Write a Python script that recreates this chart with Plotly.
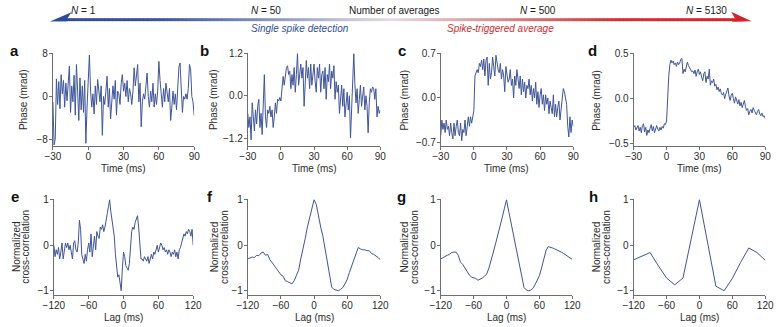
import plotly.graph_objects as go

W, H = 782, 327

# ---------------- data ----------------
time_ms = list(range(-30, 91))          # 1 ms steps, panels a-d
lag_e = list(range(-120, 121, 2))       # panel e
lag_fg = list(range(-120, 121, 4))      # panels f, g
lag_h = list(range(-120, 121, 15))      # panel h

phase_a = [
    -1.0, -9.1, -8.0, 3.3, -1.5, 2.8, -2.3, 4.1, 0.5, 3.0,
    -2.0, 2.5, -0.8, 3.5, 5.7, -3.0, 2.0, -1.0, 4.0, -3.5,
    6.0, 1.0, -4.5, 3.5, -2.5, 2.0, -3.0, 3.0, -8.8, -2.0,
    2.5, 7.8, 1.0, -2.0, 0.5, -3.3, 2.0, -1.5, 3.2, 0.5,
    -1.0, 2.0, -7.3, 0.0, -1.5, 1.0, 3.8, -2.0, 1.5, -4.2,
    -1.0, 2.0, -0.5, 3.0, -3.5, 1.0, 0.5, -1.5, 2.5, 4.1,
    1.0, 2.5, 0.0, 3.0, -1.0, 1.5, 0.5, -1.5, 1.0, 5.4,
    2.0, 4.0, 6.0, -1.0, 2.5, -5.7, -1.0, 0.5, -0.5, 2.0,
    4.4, 0.0, -2.0, 1.0, -1.0, 2.5, -2.0, 0.5, -1.5, 1.0,
    6.6, 3.0, -0.5, -2.0, 1.5, -1.0, 2.5, 0.0, -1.0, 1.5,
    -4.5, -2.0, 1.0, -1.5, 0.5, -2.5, 1.5, 5.5, 6.3, 2.0,
    -3.0, 0.0, -0.5, 0.5, -0.5, 1.5, 6.0, 5.0, 0.0, -1.0,
    -3.6,
]

phase_b = [
    -0.5, -0.9, -0.6, -1.25, -0.2, -0.7, -1.0, -0.4, -0.8, -0.3,
    -0.1, -0.9, -0.5, -1.1, -0.3, 0.6, -0.6, -0.9, -0.4, -0.5,
    -0.3, -0.6, -0.4, -0.9, -0.6, -0.2, -0.5, -0.1, -0.15, -0.05,
    -0.15, 0.3, 0.55, 0.3, 0.5, 0.8, 0.85, 0.6, 0.7, 0.2,
    0.6, 0.3, 0.8, 0.1, 0.6, 1.2, 0.3, 0.7, 0.9, 0.5,
    0.8, -0.3, 0.6, 1.0, 0.5, 0.8, 0.2, 0.9, 0.3, 0.7,
    0.9, 0.4, 0.1, 0.8, 0.5, 0.9, 0.1, 0.6, 0.7, 0.2,
    0.8, -0.1, 0.6, 0.4, 0.9, 0.2, 0.7, 0.5, 0.85, -0.1,
    0.4, 0.1, 0.3, -0.5, 0.0, 0.3, -0.3, 0.2, -0.6, -0.1,
    0.1, -0.4, 0.0, -1.2, -0.2, 0.5, 1.2, 0.3, -0.2, 0.2,
    -0.5, -0.1, 0.3, -0.3, 0.1, 0.25, -0.4, 0.0, -0.3, -1.05,
    -0.2, 0.2, 0.1, 0.25, 0.2, -0.1, 0.2, -0.6, -0.3, -0.5,
    -0.4,
]

phase_c = [
    -0.6, -0.35, -0.5, -0.4, -0.55, -0.35, -0.5, -0.45, -0.6, -0.4,
    -0.55, -0.65, -0.4, -0.6, -0.45, -0.35, -0.55, -0.6, -0.4, -0.68,
    -0.5, -0.55, -0.35, -0.6, -0.45, -0.3, -0.45, -0.3, -0.4, -0.25,
    -0.2, 0.35, 0.4, 0.45, 0.4, 0.55, 0.5, 0.6, 0.45, 0.62,
    0.35, 0.6, 0.65, 0.2, 0.55, 0.3, 0.4, 0.65, 0.5, 0.35,
    0.68, 0.55, 0.45, 0.4, 0.55, 0.3, 0.45, 0.35, 0.1, 0.5,
    0.35, 0.25, 0.3, 0.45, 0.2, 0.3, 0.0, 0.35, 0.2, 0.45,
    0.3, 0.15, 0.35, 0.05, 0.3, 0.1, 0.25, 0.0, 0.2, 0.15,
    0.3, 0.05, 0.2, -0.05, 0.15, 0.0, 0.25, -0.1, 0.1, -0.15,
    0.05, 0.15, -0.1, 0.05, -0.2, 0.05, -0.1, 0.0, -0.25, -0.05,
    -0.15, -0.25, 0.05, -0.3, -0.1, -0.3, -0.15, -0.05, -0.35, -0.2,
    0.0, 0.15, 0.1, 0.0, -0.1, -0.45, -0.62, -0.3, -0.55, -0.35,
    -0.45,
]

phase_d = [
    -0.32, -0.3, -0.35, -0.33, -0.3, -0.36, -0.32, -0.38, -0.3, -0.28,
    -0.37, -0.32, -0.41, -0.35, -0.38, -0.33, -0.29, -0.36, -0.31, -0.38,
    -0.33, -0.3, -0.34, -0.36, -0.32, -0.35, -0.31, -0.33, -0.28, -0.29,
    -0.25, 0.05, 0.25, 0.38, 0.43, 0.4, 0.42, 0.38, 0.4, 0.36,
    0.41, 0.38, 0.4, 0.44, 0.45, 0.28, 0.33, 0.3, 0.38, 0.41,
    0.37, 0.35, 0.33, 0.3, 0.31, 0.28, 0.32, 0.25, 0.3, 0.33,
    0.27, 0.3, 0.24, 0.2, 0.28, 0.3, 0.18, 0.25, 0.22, 0.33,
    0.15, 0.2, 0.18, 0.22, 0.14, 0.16, 0.1, 0.13, 0.08, 0.11,
    0.06, 0.04, 0.07, 0.0, 0.05, 0.08, 0.12, 0.03, -0.02, 0.04,
    0.06, 0.0, -0.05, 0.02, -0.03, -0.06, -0.01, -0.08, -0.04, -0.1,
    -0.06, -0.02, -0.09, -0.13, -0.11, -0.18, -0.14, -0.12, -0.16, -0.1,
    -0.13, -0.15, -0.18, -0.14, -0.12, -0.17, -0.19, -0.16, -0.2, -0.19,
    -0.22,
]

xcorr_e = [
    0.0, -0.25, -0.1, -0.2, -0.05, -0.3, -0.15, 0.05, -0.3, -0.1,
    0.05, -0.05, 0.05, -0.1, 0.0, -0.15, -0.3, 0.05, 0.1, -0.1,
    -0.15, 0.05, 0.55, 0.35, -0.2, -0.3, -0.4, -0.2, -0.35, -0.1,
    0.05, -0.15, 0.25, -0.25, 0.05, 0.2, -0.1, 0.3, 0.2, 0.15,
    0.4, 0.35, 0.45, 0.3, 0.4, 0.6, 0.7, 0.85, 1.0, 0.75,
    0.55, 0.45, 0.2, -0.2, -0.5, -0.7, -0.65, -0.8, -1.0, -0.5,
    -0.15, -0.25, -0.45, -0.5, -0.55, -0.4, -0.1, 0.3, 0.4, 0.35,
    0.5, 0.6, 0.65, 0.4, 0.0, -0.3, -0.3, -0.35, -0.25, -0.3,
    -0.35, -0.25, -0.4, -0.3, -0.2, -0.3, -0.15, -0.2, -0.1, 0.0,
    -0.15, -0.05, 0.05, 0.0, -0.1, -0.05, -0.15, -0.1, -0.2, -0.1,
    -0.15, -0.25, -0.15, -0.2, -0.1, -0.25, -0.15, -0.3, -0.1, -0.05,
    0.05, 0.1, 0.25, 0.2, 0.3, 0.25, 0.35, 0.3, 0.2, 0.35,
    0.0,
]

xcorr_f = [
    -0.3, -0.28, -0.26, -0.27, -0.22, -0.23, -0.17, -0.15, -0.22, -0.2,
    -0.32, -0.38, -0.45, -0.5, -0.58, -0.65, -0.68, -0.78, -0.8, -0.82,
    -0.85, -0.78, -0.68, -0.55, -0.3, -0.1, 0.15, 0.4, 0.6, 0.8,
    1.0, 0.9, 0.6, 0.4, 0.2, -0.1, -0.4, -0.7, -0.92, -0.97,
    -0.98, -1.0, -0.97, -0.93, -0.85, -0.75, -0.6, -0.45, -0.3, -0.15,
    -0.05, -0.08, -0.1, -0.1, -0.12, -0.12, -0.18, -0.2, -0.23, -0.27,
    -0.32,
]

xcorr_g = [
    -0.3, -0.27, -0.25, -0.22, -0.2, -0.16, -0.15, -0.15, -0.22, -0.37,
    -0.42, -0.5, -0.6, -0.65, -0.7, -0.72, -0.73, -0.77, -0.75, -0.72,
    -0.68, -0.63, -0.5, -0.35, -0.15, 0.03, 0.2, 0.42, 0.6, 0.8,
    1.0, 0.75, 0.5, 0.25, 0.05, -0.2, -0.45, -0.7, -0.93, -0.98,
    -1.0, -0.99, -0.95, -0.87, -0.78, -0.67, -0.5, -0.32, -0.12, -0.03,
    -0.04, -0.06, -0.08, -0.1, -0.13, -0.15, -0.18, -0.21, -0.24, -0.28,
    -0.31,
]

xcorr_h = [-0.32, -0.24, -0.16, -0.45, -0.72, -0.87, -0.72, 0.14, 1.0,
           0.05, -0.9, -1.0, -0.73, -0.38, -0.06, -0.16, -0.33]

# tick values / labels
time_ticks = [-30, 0, 30, 60, 90]
time_labels = ["−30", "0", "30", "60", "90"]
lag_ticks = [-120, -60, 0, 60, 120]
lag_labels = ["−120", "−60", "0", "60", "120"]
ticks_a = [-8, 0, 8]
labels_a = ["−8", "0", "8"]
ticks_b = [-1.2, 0, 1.2]
labels_b = ["−1.2", "0.0", "1.2"]
ticks_c = [-0.7, 0, 0.7]
labels_c = ["−0.7", "0.0", "0.7"]
ticks_d = [-0.5, 0, 0.5]
labels_d = ["−0.5", "0.0", "0.5"]
corr_ticks = [-1, 0, 1]
corr_labels = ["−1", "0", "1"]

panel_letters = ["a", "b", "c", "d", "e", "f", "g", "h"]
header_counts = ["<i>N</i> = 1", "<i>N</i> = 50", "<i>N</i> = 500", "<i>N</i> = 5130"]

# ---------------- layout helpers ----------------
def fx(px):
    return px / W

def fy(py):
    return 1 - py / H

LINE = "#3f5599"
AX = "#6e6e6e"
TXT = "#2b2b2b"
FONT = "Liberation Sans, Arial, Helvetica, sans-serif"

row1 = (49.5, 144.5)
row2 = (198.5, 296.0)

panels = [
    # x, y, xticks, xlabels, yticks, ylabels, xrange, yrange, xpix, ypix
    (time_ms, phase_a, time_ticks, time_labels, ticks_a, labels_a, [-30, 90], [-9.38, 8.09], (43, 188), row1),
    (time_ms, phase_b, time_ticks, time_labels, ticks_b, labels_b, [-30, 90], [-1.436, 1.2], (243, 379), row1),
    (time_ms, phase_c, time_ticks, time_labels, ticks_c, labels_c, [-30, 90], [-0.77, 0.708], (441, 577), row1),
    (time_ms, phase_d, time_ticks, time_labels, ticks_d, labels_d, [-30, 90], [-0.533, 0.5055], (639, 774), row1),
    (lag_e, xcorr_e, lag_ticks, lag_labels, corr_ticks, corr_labels, [-120, 120], [-1.086, 1.011], (44, 187), row2),
    (lag_fg, xcorr_f, lag_ticks, lag_labels, corr_ticks, corr_labels, [-120, 120], [-1.086, 1.011], (243, 379), row2),
    (lag_fg, xcorr_g, lag_ticks, lag_labels, corr_ticks, corr_labels, [-120, 120], [-1.086, 1.011], (441, 576), row2),
    (lag_h, xcorr_h, lag_ticks, lag_labels, corr_ticks, corr_labels, [-120, 120], [-1.086, 1.011], (639, 774), row2),
]

fig = go.Figure()
layout = dict(
    width=W, height=H, margin=dict(l=0, r=0, t=0, b=0),
    plot_bgcolor="white", paper_bgcolor="white", showlegend=False,
    font=dict(family=FONT, size=10, color=TXT),
)

annotations = []
for i, (xs, ys, xt, xl, yt, yl, xr, yr, xpix, ypix) in enumerate(panels):
    n = i + 1
    sfx = "" if n == 1 else str(n)
    fig.add_trace(go.Scatter(
        x=xs, y=ys, mode="lines", line=dict(color=LINE, width=1),
        xaxis="x" + sfx, yaxis="y" + sfx, hoverinfo="skip",
    ))
    common = dict(showline=True, linecolor=AX, linewidth=1, ticks="outside",
                  ticklen=3, tickwidth=1, tickcolor=AX, showgrid=False,
                  zeroline=False, tickfont=dict(size=10, color=TXT, family=FONT),
                  tickmode="array")
    layout["xaxis" + sfx] = dict(common, domain=[fx(xpix[0]), fx(xpix[1])],
                                 range=xr, tickvals=xt, ticktext=xl, anchor="y" + sfx,
                                 ticklabelstandoff=-2)
    layout["yaxis" + sfx] = dict(common, domain=[fy(ypix[1]), fy(ypix[0])],
                                 range=yr, tickvals=yt, ticktext=yl, anchor="x" + sfx,
                                 ticklabelstandoff=-1)

# panel letters
letter_pos = [(4, 47), (199, 47), (401, 47), (597, 47),
              (4, 195.5), (204, 195.5), (401, 195.5), (598, 195.5)]
for lt, (px, py) in zip(panel_letters, letter_pos):
    annotations.append(dict(text="<b>%s</b>" % lt, x=fx(px), y=fy(py), xref="paper", yref="paper",
                            xanchor="center", yanchor="middle", showarrow=False,
                            font=dict(size=15, color="#111", family=FONT)))

# y-axis titles
for px in [13.5, 208.5, 404, 601.3]:
    annotations.append(dict(text="Phase (mrad)", x=fx(px), y=fy(97), xref="paper", yref="paper",
                            xanchor="center", yanchor="middle", textangle=-90, showarrow=False,
                            font=dict(size=10, color=TXT, family=FONT)))
for px in [10.5, 214, 409, 606]:
    annotations.append(dict(text="Normalized", x=fx(px - 5), y=fy(247), xref="paper", yref="paper",
                            xanchor="center", yanchor="middle", textangle=-90, showarrow=False,
                            font=dict(size=10, color=TXT, family=FONT)))
    annotations.append(dict(text="cross-correlation", x=fx(px + 5), y=fy(247), xref="paper", yref="paper",
                            xanchor="center", yanchor="middle", textangle=-90, showarrow=False,
                            font=dict(size=10, color=TXT, family=FONT)))

# x-axis titles
for (xs, ys, xt, xl, yt, yl, xr, yr, xpix, ypix), i in zip(panels, range(8)):
    title = "Time (ms)" if i < 4 else "Lag (ms)"
    py = 167 if i < 4 else 319.5
    annotations.append(dict(text=title, x=fx((xpix[0] + xpix[1]) / 2), y=fy(py), xref="paper", yref="paper",
                            xanchor="center", yanchor="middle", showarrow=False,
                            font=dict(size=10, color=TXT, family=FONT)))

# header texts
for txt, px in zip(header_counts, [74, 262, 541, 714]):
    annotations.append(dict(text=txt, x=fx(px), y=fy(5.5), xref="paper", yref="paper",
                            xanchor="center", yanchor="middle", showarrow=False,
                            font=dict(size=10, color="#1a1a1a", family=FONT)))
annotations.append(dict(text="Number of averages", x=fx(394), y=fy(5.5), xref="paper", yref="paper",
                        xanchor="center", yanchor="middle", showarrow=False,
                        font=dict(size=10, color="#1a1a1a", family=FONT)))
annotations.append(dict(text="<i>Single spike detection</i>", x=fx(297), y=fy(24.5), xref="paper", yref="paper",
                        xanchor="center", yanchor="middle", showarrow=False,
                        font=dict(size=10, color="#2f4f9f", family=FONT)))
annotations.append(dict(text="<i>Spike-triggered average</i>", x=fx(502), y=fy(24.5), xref="paper", yref="paper",
                        xanchor="center", yanchor="middle", showarrow=False,
                        font=dict(size=10, color="#cf2e30", family=FONT)))

# gradient arrow (decoration)
stops = [(40, (44, 74, 156)), (150, (55, 82, 160)), (390, (226, 221, 229)),
         (620, (212, 48, 48)), (760, (210, 36, 40))]

def grad(px):
    for (x0, c0), (x1, c1) in zip(stops[:-1], stops[1:]):
        if x0 <= px <= x1:
            t = (px - x0) / (x1 - x0)
            return "rgb(%d,%d,%d)" % tuple(round(a + (b - a) * t) for a, b in zip(c0, c1))
    return "rgb(%d,%d,%d)" % stops[-1][1]

shapes = []
seg_start, seg_end, nseg = 48, 752, 176
step = (seg_end - seg_start) / nseg
for k in range(nseg):
    a = seg_start + k * step
    b = a + step + 0.6
    shapes.append(dict(type="rect", xref="paper", yref="paper", x0=fx(a), x1=fx(b),
                       y0=fy(16.5), y1=fy(13.5), line=dict(width=0),
                       fillcolor=grad(a + step / 2), layer="above"))

def tri(pts):
    return "M " + " L ".join("%f,%f" % (fx(x), fy(y)) for x, y in pts) + " Z"

shapes.append(dict(type="path", xref="paper", yref="paper",
                   path=tri([(40, 16.8), (62, 7.3), (58, 13.5), (58, 16.5)]),
                   fillcolor="rgb(44,74,156)", line=dict(width=0), layer="above"))
shapes.append(dict(type="path", xref="paper", yref="paper",
                   path=tri([(760, 16.5), (739, 6.8), (743, 13.5), (740, 17.2)]),
                   fillcolor="rgb(210,36,40)", line=dict(width=0), layer="above"))

layout["annotations"] = annotations
layout["shapes"] = shapes
fig.update_layout(**layout)
fig.write_html(
    "out.html",
    config={"displayModeBar": False, "staticPlot": True},
    post_script="document.body.style.margin='0px';document.body.style.overflow='hidden';",
)
